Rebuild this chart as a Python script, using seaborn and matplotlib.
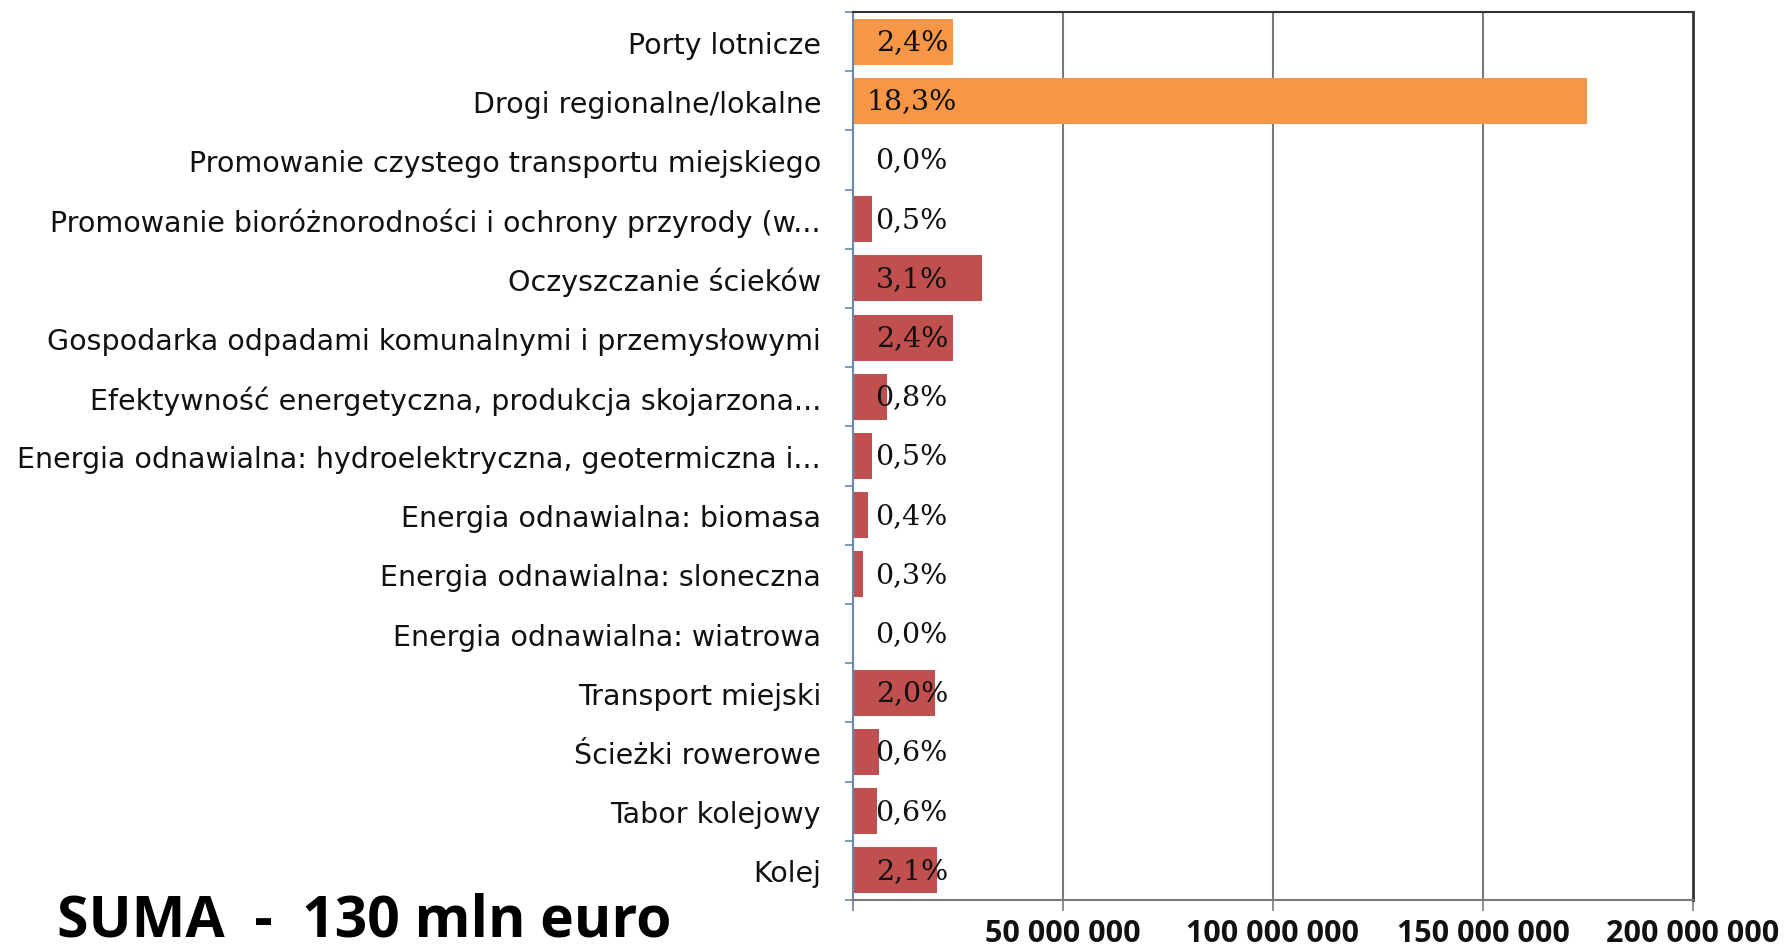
import numpy as np
import pandas as pd
import matplotlib
matplotlib.use("Agg")
import matplotlib.pyplot as plt
import matplotlib.transforms as mtransforms
from matplotlib.ticker import FixedLocator
import seaborn as sns

sns.set_style("white")
plt.rcParams['font.family'] = ['DejaVu Sans']

# data (top to bottom)
categories = [
    "Porty lotnicze",
    "Drogi regionalne/lokalne",
    "Promowanie czystego transportu miejskiego",
    "Promowanie bioróżnorodności i ochrony przyrody (w...",
    "Oczyszczanie ścieków",
    "Gospodarka odpadami komunalnymi i przemysłowymi",
    "Efektywność energetyczna, produkcja skojarzona...",
    "Energia odnawialna: hydroelektryczna, geotermiczna i...",
    "Energia odnawialna: biomasa",
    "Energia odnawialna: sloneczna",
    "Energia odnawialna: wiatrowa",
    "Transport miejski",
    "Ścieżki rowerowe",
    "Tabor kolejowy",
    "Kolej",
]
values = [23.9e6, 174.7e6, 0, 4.6e6, 30.7e6, 23.9e6, 8.2e6, 4.6e6,
          3.5e6, 2.4e6, 0, 19.6e6, 6.2e6, 5.7e6, 20.1e6]
pct_labels = ["2,4%", "18,3%", "0,0%", "0,5%", "3,1%", "2,4%", "0,8%", "0,5%",
              "0,4%", "0,3%", "0,0%", "2,0%", "0,6%", "0,6%", "2,1%"]
groups = ["transport", "transport"] + ["other"] * 13
x_ticks = [0, 50e6, 100e6, 150e6, 200e6]
x_tick_labels = ["", "50 000 000", "100 000 000", "150 000 000", "200 000 000"]

df = pd.DataFrame({"kategoria": categories, "wartosc": values, "grupa": groups})
colors = {"transport": "#F79646", "other": "#C0504D"}

fig = plt.figure(figsize=(17.89, 9.53), dpi=100)
ax = fig.add_axes([853 / 1789, 1 - 901 / 953, 840 / 1789, 888 / 953])

sns.barplot(data=df, x="wartosc", y="kategoria", hue="grupa", palette=colors,
            dodge=False, width=0.78, orient="h", legend=False, ax=ax,
            edgecolor="none", saturation=1)

ax.set_xlim(0, 200e6)
ax.set_ylim(len(categories) - 0.5, -0.5)
ax.set_xlabel("")
ax.set_ylabel("")

# gridlines
for xv in x_ticks[1:4]:
    ax.axvline(xv, color="#7a7a7a", lw=1.5, zorder=0)

ax.spines["right"].set_color("#333333")
ax.spines["right"].set_linewidth(2)
ax.spines["top"].set_color("#333333")
ax.spines["top"].set_linewidth(1.5)
ax.spines["left"].set_color("#6d87a8")
ax.spines["left"].set_linewidth(1.5)
ax.spines["bottom"].set_color("#7a7a7a")
ax.spines["bottom"].set_linewidth(1.5)

# x axis ticks
ax.set_xticks(x_ticks)
ax.set_xticklabels(x_tick_labels, fontsize=22, fontweight="bold", color="#111111",
                   family=["Open Sans", "DejaVu Sans"])
ax.tick_params(axis="x", direction="out", length=8, width=1.2, color="#7a7a7a", pad=5,
               bottom=True)

# y axis: labels at centres, tick marks at boundaries
ax.set_yticks(range(len(categories)))
ax.set_yticklabels(categories, fontsize=20.5, color="#111111")
ax.tick_params(axis="y", which="major", length=0, pad=23)
ax.yaxis.set_minor_locator(FixedLocator(np.arange(-0.5, len(categories), 1.0)))
ax.tick_params(axis="y", which="minor", direction="out", length=6, width=1.2,
               color="#6d87a8", left=True)

# percentage labels
trans = mtransforms.blended_transform_factory(ax.transAxes, ax.transData)
for i, lab in enumerate(pct_labels):
    ax.text(0.070, i, lab, transform=trans, ha="center", va="center",
            fontsize=20.5, family="DejaVu Serif", color="#111111", zorder=5)

fig.text(57 / 1789, 2 / 953, "SUMA  -  130 mln euro", fontsize=41,
         fontweight="bold", family=["Open Sans", "DejaVu Sans"], ha="left",
         va="bottom", color="black")

fig.savefig("out.png", dpi=100)
